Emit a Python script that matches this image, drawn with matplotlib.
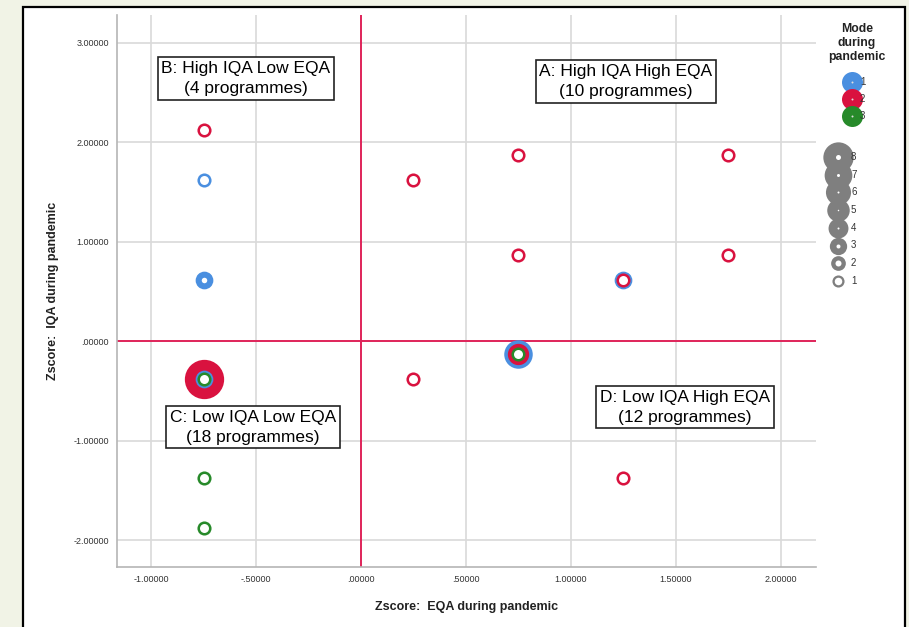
import matplotlib.pyplot as plt
from matplotlib.patches import Rectangle
import numpy as np

plt.rcParams['font.family'] = ['Liberation Sans', 'DejaVu Sans']

# programmes per point, grouped by mode during pandemic
mode1_x = [-0.75, -0.75, -0.75, 0.75, 1.25]
mode1_y = [1.62, 0.62, -0.38, -0.13, 0.62]
mode1_n = [1, 2, 2, 5, 2]

mode2_x = [-0.75, -0.75, 0.25, 0.25, 0.75, 0.75, 0.75, 1.25, 1.25, 1.75, 1.75]
mode2_y = [2.12, -0.38, 1.62, -0.38, 1.87, 0.87, -0.13, 0.62, -1.38, 1.87, 0.87]
mode2_n = [1, 8, 1, 1, 1, 1, 3, 1, 1, 1, 1]

mode3_x = [-0.75, -0.75, -0.75, 0.75]
mode3_y = [-0.38, -1.38, -1.88, -0.13]
mode3_n = [1, 1, 1, 1]

mode_labels = ["1", "2", "3"]
mode_colors = ["#4a8fe0", "#d9123f", "#278a2a"]
size_labels = [8, 7, 6, 5, 4, 3, 2, 1]
size_holes = [5, 3, 2, 1.5, 2, 4, 6, 7.5]  # white centre of legend rings, px

quad_text = ["B: High IQA Low EQA\n(4 programmes)",
             "A: High IQA High EQA\n(10 programmes)",
             "C: Low IQA Low EQA\n(18 programmes)",
             "D: Low IQA High EQA\n(12 programmes)"]
quad_pos = [(-0.548, 2.64), (1.262, 2.61), (-0.514, -0.864), (1.543, -0.663)]

xticks = [-1.0, -0.5, 0.0, 0.5, 1.0, 1.5, 2.0]
xticklabels = ["-1.00000", "-.50000", ".00000", ".50000", "1.00000", "1.50000", "2.00000"]
yticks = [-2.0, -1.0, 0.0, 1.0, 2.0, 3.0]
yticklabels = ["-2.00000", "-1.00000", ".00000", "1.00000", "2.00000", "3.00000"]

PX = 0.72  # points per pixel at dpi 100


def outer_px(n):
    return 10.5 + 3.6 * n


def hole_px(n):
    return max(9 - 3.5 * (n - 1), 3)


fig = plt.figure(figsize=(9.09, 6.27), dpi=100, facecolor='#f1f3e6')
fig.patches.append(Rectangle((23 / 909, -0.1), 882 / 909, 1.1 - 7 / 627,
                             transform=fig.transFigure, facecolor='white',
                             edgecolor='black', linewidth=1.6, zorder=0))

ax = fig.add_axes([117 / 909, 1 - 567 / 627, 699 / 909, 552 / 627], zorder=2)
ax.set_facecolor('white')
ax.set_xlim(-1.162, 2.167)
ax.set_ylim(-2.27, 3.28)

ax.set_xticks(xticks, xticklabels, fontsize=6.5, color='#333333')
ax.set_yticks(yticks, yticklabels, fontsize=6.5, color='#333333')
ax.tick_params(length=0, pad=6)
ax.grid(True, color='#d9d9d9', linewidth=1.2)
ax.set_axisbelow(True)
for s in ['top', 'right']:
    ax.spines[s].set_visible(False)
for s in ['left', 'bottom']:
    ax.spines[s].set_color('#b5b5b5')
    ax.spines[s].set_linewidth(1.2)

ax.axvline(0, color='#e0245a', linewidth=1.4, zorder=2)
ax.axhline(0, color='#e0245a', linewidth=1.4, zorder=2)

# rings: colored disc then white hole, biggest first
pts = []
for xs, ys, ns, c in [(mode1_x, mode1_y, mode1_n, mode_colors[0]),
                      (mode2_x, mode2_y, mode2_n, mode_colors[1]),
                      (mode3_x, mode3_y, mode3_n, mode_colors[2])]:
    for x, y, n in zip(xs, ys, ns):
        pts.append((n, x, y, c))
pts.sort(key=lambda p: -p[0])
z = 3
for n, x, y, c in pts:
    ax.scatter([x], [y], s=(outer_px(n) * PX) ** 2, color=c, linewidths=0, zorder=z)
    ax.scatter([x], [y], s=(hole_px(n) * PX) ** 2, color='white', linewidths=0, zorder=z + 1)
    z += 2

for txt, (tx, ty) in zip(quad_text, quad_pos):
    ax.text(tx, ty, txt, fontsize=12.5, ha='center', va='center', linespacing=1.4,
            zorder=50, bbox=dict(boxstyle='square,pad=0.22', facecolor='white',
                                 edgecolor='#222222', linewidth=1.2))

ax.set_xlabel("Zscore:  EQA during pandemic", fontsize=9, fontweight='bold', labelpad=12,
              color='#222222')
ax.set_ylabel("Zscore:  IQA during pandemic", fontsize=9, fontweight='bold', labelpad=10,
              color='#222222')

# legend overlay in pixel space
lg = fig.add_axes([0, 0, 1, 1], zorder=10)
lg.set_xlim(0, 909)
lg.set_ylim(627, 0)
lg.axis('off')
lg.patch.set_alpha(0)

lg.text(857, 43, "Mode\nduring\npandemic", fontsize=8.8, fontweight='bold',
        ha='center', va='center', linespacing=1.2, color='#222222')

for i, (lab, c) in enumerate(zip(mode_labels, mode_colors)):
    yy = 82 + 17 * i
    lg.scatter([852], [yy], s=(21 * PX) ** 2, color=c, linewidths=0)
    lg.scatter([852], [yy], s=(2 * PX) ** 2, color='#dddddd', linewidths=0)
    lg.text(860, yy, lab, fontsize=7, va='center', ha='left', color='#333333')

for i, (n, h) in enumerate(zip(size_labels, size_holes)):
    yy = 157 + 17.7 * i
    d = 9.5 + 2.6 * n
    lg.scatter([838], [yy], s=(d * PX) ** 2, color='#7f7f7f', linewidths=0)
    lg.scatter([838], [yy], s=(h * PX) ** 2, color='white', linewidths=0)
    lg.text(851, yy, str(n), fontsize=7, va='center', ha='left', color='#333333')

fig.savefig('out.png', dpi=100, facecolor=fig.get_facecolor())
